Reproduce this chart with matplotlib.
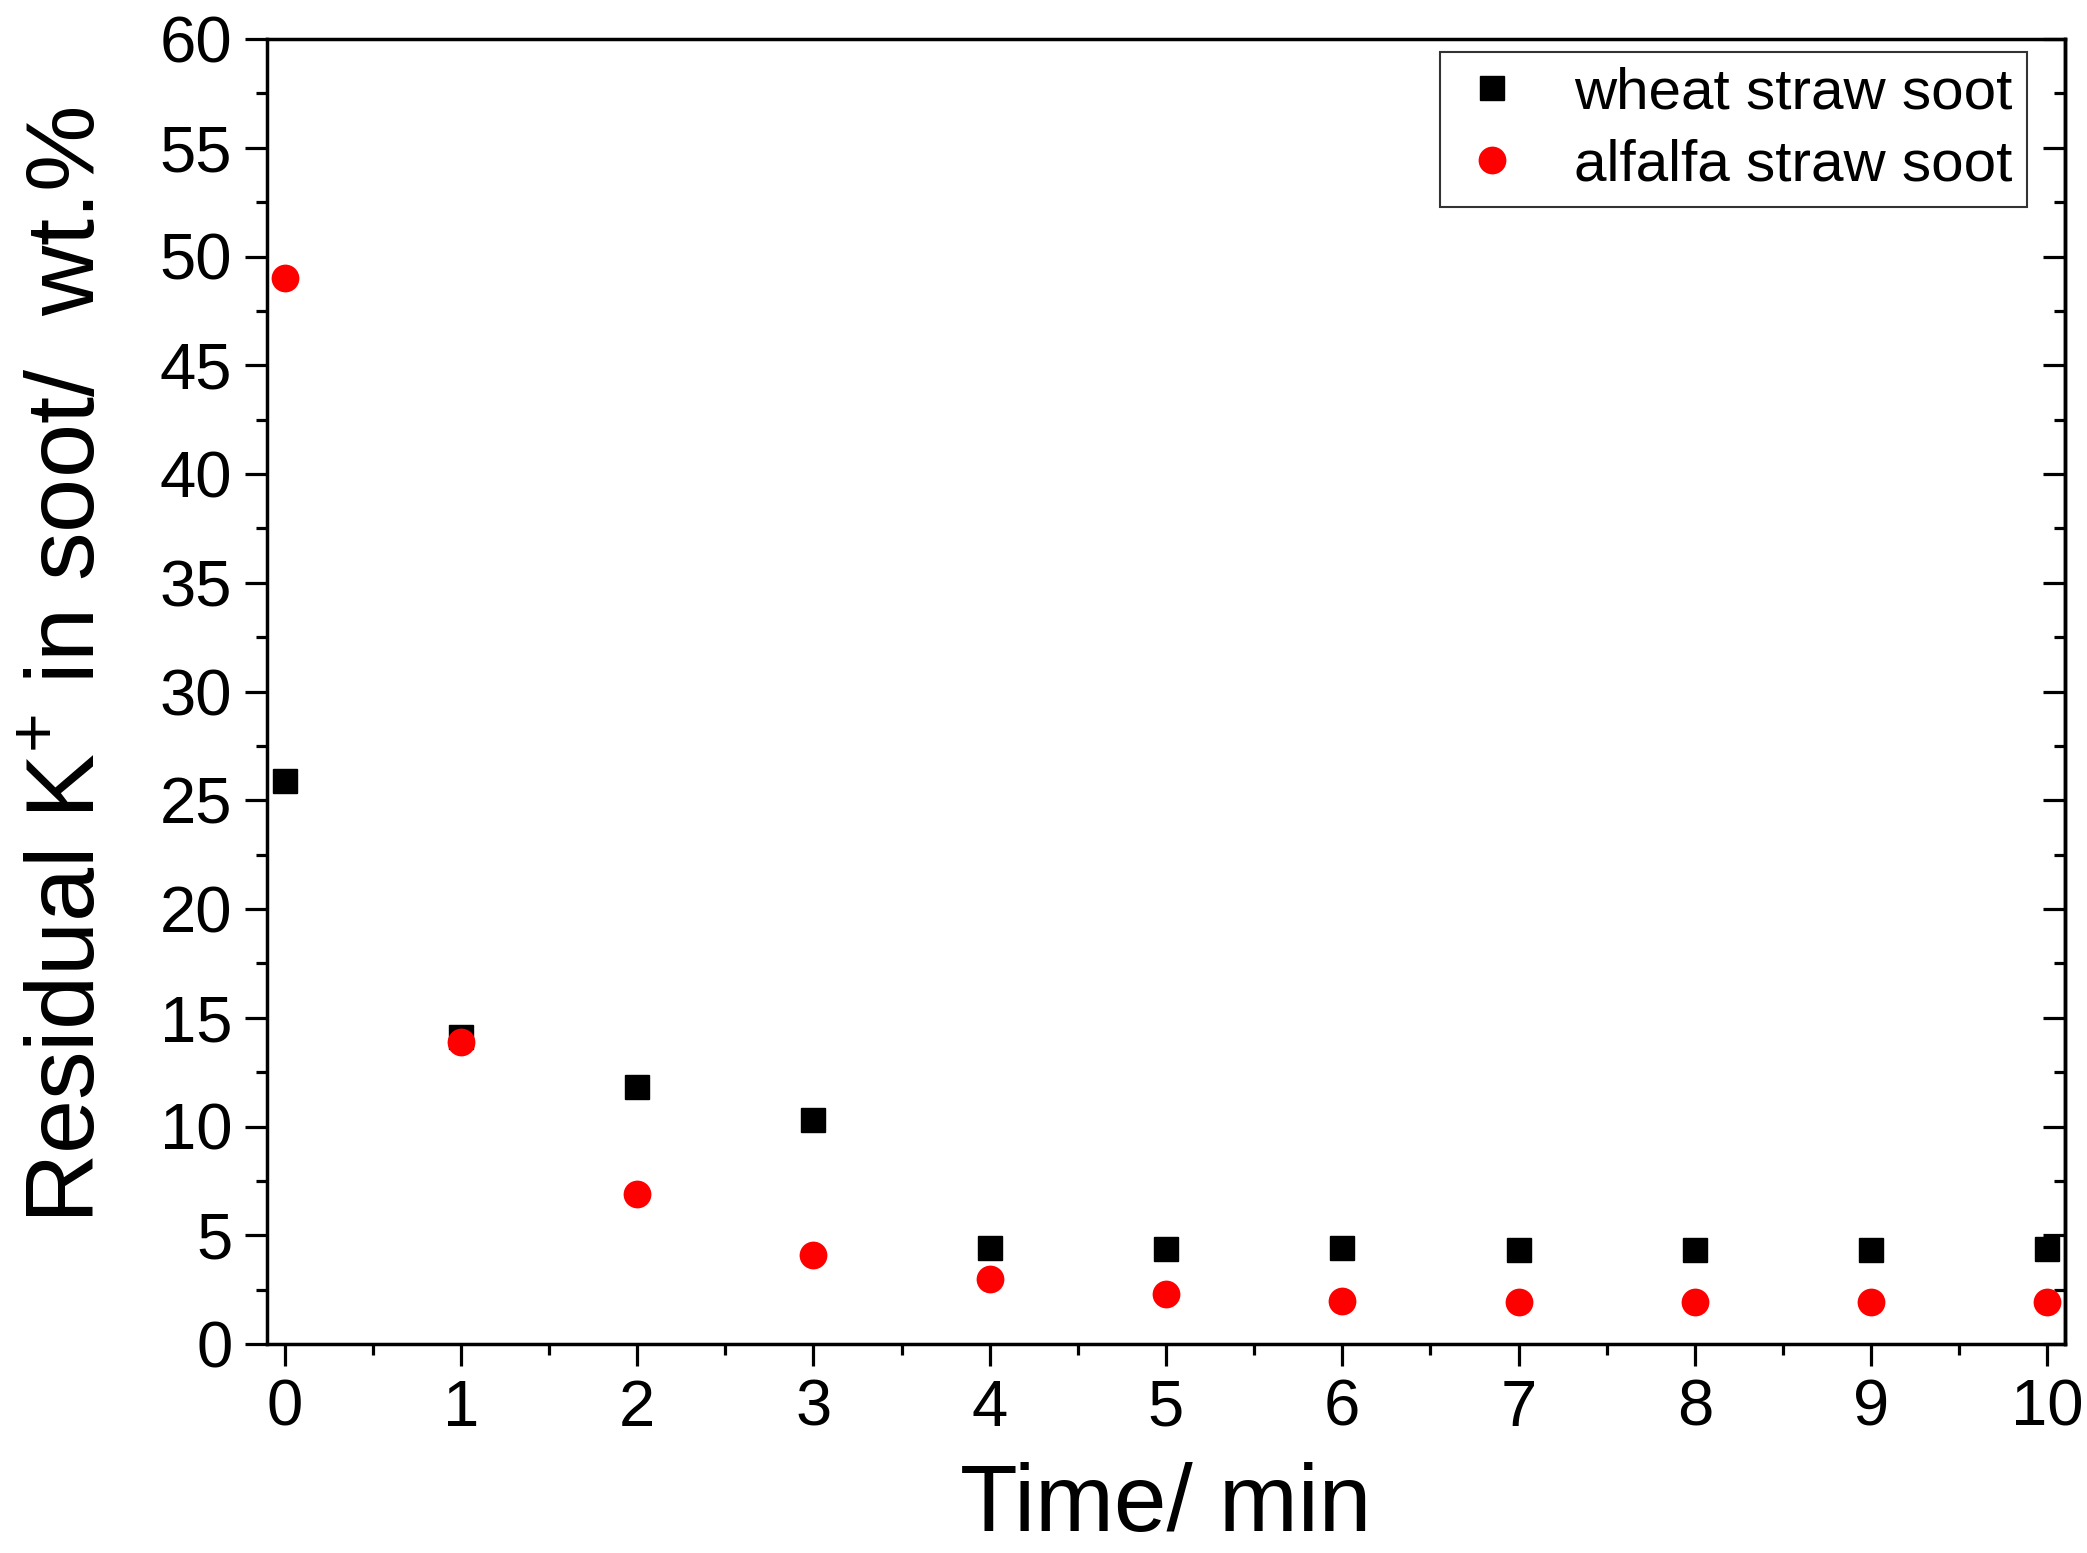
import matplotlib
matplotlib.use("Agg")
import matplotlib.pyplot as plt
from matplotlib.ticker import MultipleLocator

# data
time_min = [0, 1, 2, 3, 4, 5, 6, 7, 8, 9, 10]
wheat_soot = [25.9, 14.1, 11.8, 10.3, 4.4, 4.35, 4.4, 4.3, 4.3, 4.3, 4.35]
alfalfa_soot = [49.0, 13.9, 6.9, 4.1, 3.0, 2.3, 2.0, 1.95, 1.95, 1.95, 1.95]

plt.rcParams['font.family'] = ['Liberation Sans', 'DejaVu Sans']
plt.rcParams['mathtext.fontset'] = 'custom'
plt.rcParams['mathtext.rm'] = 'Liberation Sans'

fig = plt.figure(figsize=(20.87, 15.53), dpi=100)
ax = fig.add_axes([267 / 2087, 1 - 1344 / 1553, (2065 - 267) / 2087, (1344 - 39) / 1553])

ax.plot(time_min, wheat_soot, 's', color='black', ms=17, label='wheat straw soot')
ax.plot(time_min, alfalfa_soot, 'o', color='red', ms=20, mew=0, label='alfalfa straw soot')

ax.set_xlim(-0.1, 10.1)
ax.set_ylim(0, 60)
ax.xaxis.set_major_locator(MultipleLocator(1))
ax.xaxis.set_minor_locator(MultipleLocator(0.5))
ax.yaxis.set_major_locator(MultipleLocator(5))
ax.yaxis.set_minor_locator(MultipleLocator(2.5))

for s in ax.spines.values():
    s.set_linewidth(2.5)
ax.tick_params(which='major', direction='out', length=16, width=2.3,
               labelsize=47, pad=9)
ax.tick_params(which='minor', direction='out', length=8, width=2.3)

# inward ticks on the right side, no labels
sec = ax.secondary_yaxis('right')
sec.yaxis.set_major_locator(MultipleLocator(5))
sec.yaxis.set_minor_locator(MultipleLocator(2.5))
sec.tick_params(which='major', direction='in', length=16, width=2.3, labelright=False)
sec.tick_params(which='minor', direction='in', length=8, width=2.3)
sec.spines['right'].set_linewidth(2.5)

ax.set_xlabel('Time/ min', fontsize=68, labelpad=17)
ax.set_ylabel('Residual K$^{+}$ in soot/  wt.%', fontsize=70)
ax.yaxis.set_label_coords(-0.085, 0.52)

leg = ax.legend(loc='upper right', bbox_to_anchor=(2027 / 2087, 1 - 52 / 1553),
                bbox_transform=fig.transFigure, fontsize=42, frameon=True,
                fancybox=False, edgecolor='black', handletextpad=0.75,
                borderpad=0.25, labelspacing=0.3, handlelength=1.3,
                borderaxespad=0)
leg.get_frame().set_linewidth(1.5)

fig.savefig('out.png', dpi=100)
